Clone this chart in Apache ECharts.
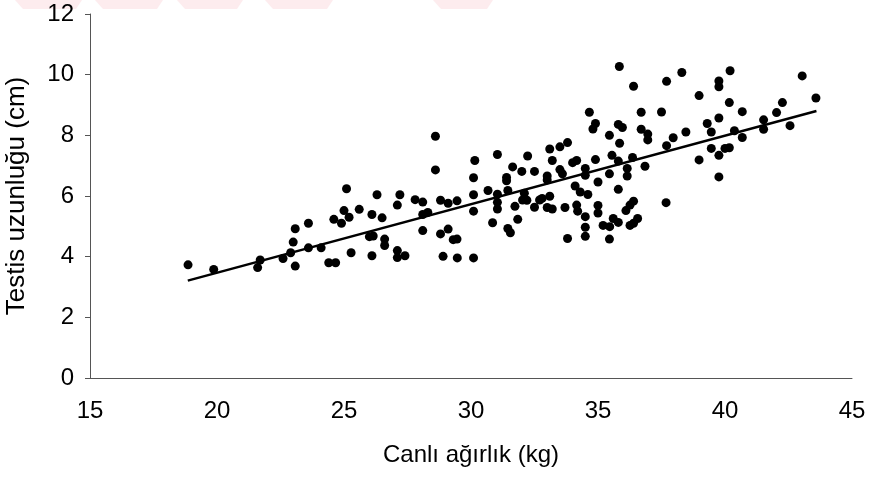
<!DOCTYPE html>
<html>
<head>
<meta charset="utf-8">
<script src="https://cdn.jsdelivr.net/npm/echarts@6/dist/echarts.min.js"></script>
<style>
  html, body { margin: 0; padding: 0; background: #fff; }
  .echarts { width: 875px; height: 479px; }
</style>
</head>
<body>
<div class="echarts"></div>
<script>
// canlı ağırlık (kg)
const weightKg = [
    18.86, 19.87, 21.7, 21.6, 22.6, 22.9, 23.0, 23.08, 23.08, 23.6, 23.6, 24.1, 24.4,
    24.67, 25.1, 24.6, 24.9, 25.0, 25.2, 25.28, 25.6, 26.1, 26.3, 26.5, 26.0, 26.15, 26.1,
    26.6, 26.6, 27.1, 27.2, 27.1, 27.1, 27.4, 27.8, 28.1, 28.1, 28.3, 28.1, 28.6, 28.6,
    28.8, 29.1, 29.45, 28.8, 29.1, 29.3, 29.45, 28.9, 29.46, 30.1, 30.15, 30.1, 30.1, 30.1,
    31.04, 30.67, 31.04, 31.04, 31.04, 30.85, 31.4, 31.4, 31.45, 31.64, 32.0, 32.23, 32.5,
    31.73, 31.84, 31.45, 31.55, 32.03, 32.1, 32.2, 32.5, 32.7, 32.8, 33.0, 33.1, 33.2,
    33.0, 33.0, 33.1, 33.2, 33.5, 33.8, 33.5, 33.6, 33.7, 33.8, 34.0, 34.16, 34.1, 34.3,
    34.16, 34.2, 34.6, 34.5, 34.5, 34.5, 34.5, 34.5, 34.66, 34.9, 34.8, 34.9, 35.0, 35.0,
    35.0, 35.2, 35.46, 35.45, 35.6, 35.45, 35.55, 35.45, 35.8, 35.85, 35.8, 35.8,
    35.84, 36.4, 37.7, 38.3, 40.2, 39.76, 39.76, 38.98, 40.17, 40.68, 36.7, 37.5, 39.76,
    39.3, 35.96, 36.7, 36.96, 36.96, 38.46, 39.46, 40.37, 40.68, 37.96, 37.7, 39.46, 40.0,
    40.17, 39.76, 38.98, 36.36, 36.15, 36.15, 36.85, 39.76, 36.4, 36.26, 37.68,
    36.1, 35.8, 36.56, 36.4, 36.26,
    43.04, 43.58, 42.26, 42.03, 41.52, 41.52, 42.56
];
// testis uzunluğu (cm)
const testisCm = [
    3.73, 3.58, 3.89, 3.64, 3.94, 4.13, 4.48, 4.92, 3.69, 5.1, 4.29, 4.29, 3.8,
    3.8, 6.24, 5.23, 5.1, 5.52, 5.3, 4.13, 5.56, 5.39, 6.04, 5.28, 4.66, 4.68, 4.03,
    4.58, 4.37, 5.7, 6.04, 4.2, 3.97, 4.03, 5.88, 5.8, 5.39, 5.46, 4.86, 7.97, 6.86,
    5.86, 5.76, 5.84, 4.75, 4.91, 4.56, 4.58, 4.01, 3.96, 3.96, 7.17, 6.6, 6.04, 5.5,
    7.37, 6.18, 6.06, 5.79, 5.57, 5.12, 6.61, 6.5, 6.18, 6.96, 6.81, 7.32, 6.81,
    5.66, 5.23, 4.93, 4.79, 5.87, 6.09, 5.86, 5.63, 5.87, 5.92, 5.62, 5.99, 5.57,
    6.66, 6.53, 7.55, 7.17, 7.62, 7.76, 6.87, 6.73, 5.62, 4.6, 7.1, 7.17, 6.33, 6.13,
    5.7, 5.5, 6.05, 6.91, 6.68, 5.32, 4.97, 4.67, 8.76, 8.39, 8.21, 7.2, 6.46, 5.69,
    5.44, 5.03, 4.99, 4.58, 5.26, 8.0, 7.34, 6.73, 8.36, 7.74, 7.15, 6.22,
    10.27, 9.62, 9.78, 10.07, 10.13, 9.79, 9.6, 9.31, 9.08, 8.78, 8.76, 8.77, 8.57,
    8.39, 8.26, 8.2, 8.04, 7.85, 8.11, 8.11, 8.15, 7.93, 7.92, 7.66, 7.57, 7.57,
    7.59, 7.34, 7.19, 7.27, 6.91, 6.66, 6.98, 6.63, 5.83, 5.7, 5.78,
    5.52, 5.13, 5.26, 5.1, 5.03,
    9.96, 9.23, 9.08, 8.75, 8.51, 8.2, 8.32
];
// regresyon doğrusu uç noktaları
const fitX = [18.85, 43.6];
const fitY = [3.21, 8.8];

const xTicks = [15, 20, 25, 30, 35, 40, 45];
const yTicks = [0, 2, 4, 6, 8, 10, 12];

window.addEventListener('load', function () {
    let myChart = echarts.init(document.querySelector('.echarts'), null, { renderer: 'canvas' });

    const points = weightKg.map(function (w, i) { return [w, testisCm[i]]; });
    const fitLine = fitX.map(function (x, i) { return [x, fitY[i]]; });

    // soluk kırmızı filigran şeritleri
    const stripes = [[15, 82], [95, 163], [177, 243], [265, 333], [433, 493]].map(function (s) {
        return {
            type: 'polygon',
            silent: true,
            shape: { points: [[s[0], 0], [s[1], 0], [s[1] - 6, 9], [s[0] + 8, 9]] },
            style: { fill: '#fdecee' }
        };
    });

    const labelFont = {
        color: '#000',
        fontFamily: 'Liberation Sans, Arial, sans-serif',
        fontSize: 24
    };

    let myChartOption = {
        animation: false,
        backgroundColor: '#fff',
        graphic: stripes,
        grid: {
            left: 90,
            right: 23,
            top: 14,
            bottom: 101,
            outerBoundsMode: 'none'
        },
        xAxis: {
            type: 'value',
            min: xTicks[0],
            max: xTicks[xTicks.length - 1],
            interval: 5,
            name: 'Canlı ağırlık (kg)',
            nameLocation: 'middle',
            nameGap: 65,
            nameTextStyle: {
                color: '#000',
                fontFamily: 'Liberation Sans, Arial, sans-serif',
                fontSize: 24
            },
            axisLine: { onZero: false, lineStyle: { color: '#555', width: 1 } },
            axisTick: { show: false },
            axisLabel: Object.assign({ margin: 21 }, labelFont),
            splitLine: { show: false }
        },
        yAxis: {
            type: 'value',
            min: yTicks[0],
            max: yTicks[yTicks.length - 1],
            interval: 2,
            name: 'Testis uzunluğu (cm)',
            nameLocation: 'middle',
            nameGap: 60,
            nameTextStyle: {
                color: '#000',
                fontFamily: 'Liberation Sans, Arial, sans-serif',
                fontSize: 26
            },
            axisLine: { show: true, lineStyle: { color: '#555', width: 1 } },
            axisTick: { show: true, length: 5, lineStyle: { color: '#555' } },
            axisLabel: Object.assign({ margin: 16 }, labelFont),
            splitLine: { show: false }
        },
        series: [
            {
                name: 'gözlem',
                type: 'scatter',
                data: points,
                symbol: 'circle',
                symbolSize: 9,
                itemStyle: { color: '#000', opacity: 1 }
            },
            {
                name: 'regresyon',
                type: 'line',
                data: fitLine,
                symbol: 'none',
                lineStyle: { color: '#000', width: 2.5 },
                z: 3
            }
        ]
    };
    myChart.setOption(myChartOption);
});
</script>
</body>
</html>
